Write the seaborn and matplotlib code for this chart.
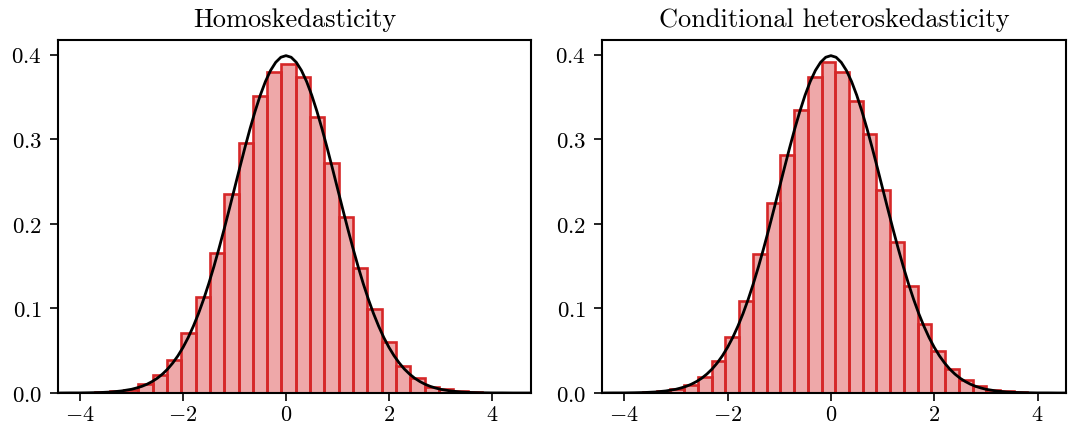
import numpy as np
import pandas as pd
import matplotlib
matplotlib.use("Agg")
import matplotlib.pyplot as plt
import seaborn as sns

# ---------------- data ----------------
titles = ["Homoskedasticity", "Conditional heteroskedasticity"]

# left panel histogram: first bin edge, bin width, bar heights (density)
homo_start = -3.706
homo_width = 0.2783
homo_heights = [0.001, 0.002, 0.004,
                0.0102, 0.0208, 0.0385, 0.0709, 0.114, 0.1657, 0.2354,
                0.2957, 0.3508, 0.380, 0.389, 0.374, 0.3268, 0.2717,
                0.2079, 0.148, 0.0996, 0.0602, 0.0314, 0.0181, 0.0075,
                0.0043, 0.002, 0.001]

# right panel histogram
hetero_start = -3.636
hetero_width = 0.2657
hetero_heights = [0.001, 0.002, 0.005,
                  0.009, 0.0189, 0.0373, 0.0661, 0.1082, 0.1646, 0.2244,
                  0.2815, 0.3347, 0.374, 0.391, 0.379, 0.3453, 0.3063,
                  0.2402, 0.1783, 0.1264, 0.0819, 0.0492, 0.0287, 0.0149,
                  0.0078, 0.004, 0.002, 0.001]

# reference density curve (same in both panels)
curve_x = [-4.4, -4.2, -4.0, -3.8, -3.6, -3.4, -3.2, -3.0,
           -2.9, -2.8, -2.7, -2.6, -2.5, -2.4, -2.3, -2.2, -2.1, -2.0,
           -1.9, -1.8, -1.7, -1.6, -1.5, -1.4, -1.3, -1.2, -1.1, -1.0,
           -0.9, -0.8, -0.7, -0.6, -0.5, -0.4, -0.3, -0.2, -0.1, 0.0,
           0.1, 0.2, 0.3, 0.4, 0.5, 0.6, 0.7, 0.8, 0.9, 1.0,
           1.1, 1.2, 1.3, 1.4, 1.5, 1.6, 1.7, 1.8, 1.9, 2.0,
           2.1, 2.2, 2.3, 2.4, 2.5, 2.6, 2.7, 2.8, 2.9, 3.0,
           3.2, 3.4, 3.6, 3.8, 4.0, 4.2, 4.4, 4.6, 4.8]
curve_y = [0.0000, 0.0001, 0.0001, 0.0003, 0.0006, 0.0012, 0.0024, 0.0044,
           0.0060, 0.0079, 0.0104, 0.0136, 0.0175, 0.0224, 0.0283, 0.0355, 0.0440, 0.0540,
           0.0656, 0.0790, 0.0940, 0.1109, 0.1295, 0.1497, 0.1714, 0.1942, 0.2179, 0.2420,
           0.2661, 0.2897, 0.3123, 0.3332, 0.3521, 0.3683, 0.3814, 0.3910, 0.3970, 0.3989,
           0.3970, 0.3910, 0.3814, 0.3683, 0.3521, 0.3332, 0.3123, 0.2897, 0.2661, 0.2420,
           0.2179, 0.1942, 0.1714, 0.1497, 0.1295, 0.1109, 0.0940, 0.0790, 0.0656, 0.0540,
           0.0440, 0.0355, 0.0283, 0.0224, 0.0175, 0.0136, 0.0104, 0.0079, 0.0060, 0.0044,
           0.0024, 0.0012, 0.0006, 0.0003, 0.0001, 0.0001, 0.0000, 0.0000, 0.0000]

xticks = [-4, -2, 0, 2, 4]
yticks = [0.0, 0.1, 0.2, 0.3, 0.4]

# ---------------- style ----------------
sns.set_theme(style="ticks")
plt.rcParams.update({
    "font.family": ["cmr10", "DejaVu Serif"],
    "mathtext.fontset": "cm",
    "axes.formatter.use_mathtext": True,
    "axes.unicode_minus": True,
    "axes.linewidth": 1.5,
    "axes.edgecolor": "black",
    "text.color": "black",
    "axes.titlecolor": "black",
    "xtick.major.size": 5.5,
    "ytick.major.size": 5.5,
    "xtick.major.width": 1.2,
    "ytick.major.width": 1.2,
    "xtick.major.pad": 2.5,
    "ytick.major.pad": 6,
    "xtick.labelsize": 16,
    "ytick.labelsize": 16.5,
    "xtick.color": "black",
    "ytick.color": "black",
})

fig = plt.figure(figsize=(10.70, 4.27), dpi=100)
W, H = 1070, 427
ax_boxes = [(58, 41, 531, 394), (602, 41, 1066, 394)]
xlims = [(-4.43, 4.76), (-4.43, 4.55)]

panels = [(homo_start, homo_width, homo_heights),
          (hetero_start, hetero_width, hetero_heights)]

red = "#d62728"

for i, ((start, width, heights), box) in enumerate(zip(panels, ax_boxes)):
    x0, y0, x1, y1 = box
    ax = fig.add_axes([x0 / W, 1 - y1 / H, (x1 - x0) / W, (y1 - y0) / H])
    n = len(heights)
    edges = [float(start + width * k) for k in range(n + 1)]
    centers = [(edges[k] + edges[k + 1]) / 2 for k in range(n)]
    df = pd.DataFrame({"x": centers, "w": heights})
    sns.histplot(data=df, x="x", weights="w", bins=edges, stat="count",
                 color=red, alpha=0.4, edgecolor=red, linewidth=1.9, ax=ax)
    cdf = pd.DataFrame({"x": curve_x, "y": curve_y})
    sns.lineplot(data=cdf, x="x", y="y", color="black", linewidth=2.0,
                 ax=ax, sort=False)
    ax.set_xlim(*xlims[i])
    ax.set_ylim(0, 0.4174)
    ax.set_xticks(xticks)
    ax.set_yticks(yticks)
    ax.set_xticklabels([r"$%d$" % t if t >= 0 else r"$-%d$" % (-t) for t in xticks])
    ax.set_yticklabels([r"$%.1f$" % t for t in yticks])
    ax.set_xlabel("")
    ax.set_ylabel("")
    ax.set_title(titles[i], fontsize=19, pad=10, color="black")
    for s in ax.spines.values():
        s.set_visible(True)
        s.set_linewidth(1.5)

fig.savefig("out.png", dpi=100)
